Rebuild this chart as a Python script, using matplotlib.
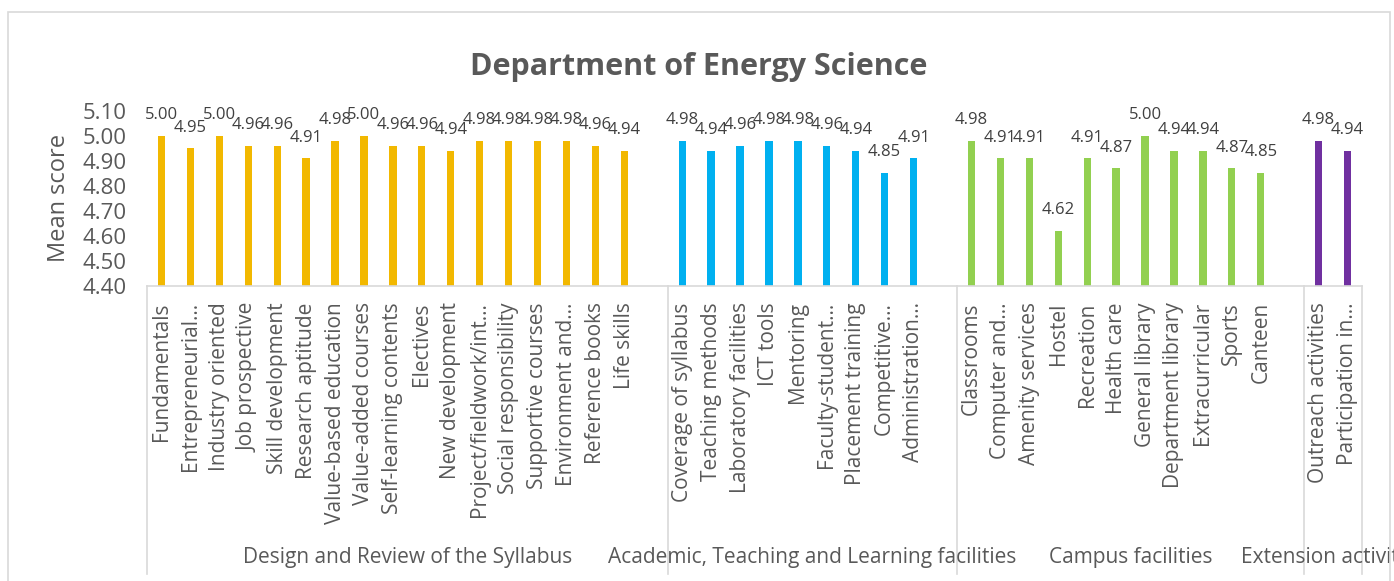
import numpy as np
import matplotlib.pyplot as plt
from matplotlib.patches import Rectangle
import matplotlib.transforms as mtransforms

plt.rcParams['font.family'] = ['Open Sans', 'DejaVu Sans']

# categories by group
syllabus = ['Fundamentals', 'Entrepreneurial…', 'Industry oriented', 'Job prospective',
            'Skill development', 'Research aptitude', 'Value-based education',
            'Value-added courses', 'Self-learning contents', 'Electives', 'New development',
            'Project/fieldwork/int…', 'Social responsibility', 'Supportive courses',
            'Environment and…', 'Reference books', 'Life skills']
academic = ['Coverage of syllabus', 'Teaching methods', 'Laboratory facilities', 'ICT tools',
            'Mentoring', 'Faculty-student…', 'Placement training', 'Competitive…',
            'Administration…']
campus = ['Classrooms', 'Computer and…', 'Amenity services', 'Hostel', 'Recreation',
          'Health care', 'General library', 'Department library', 'Extracurricular',
          'Sports', 'Canteen']
extension = ['Outreach activities', 'Participation in…']

syllabus_vals = [5.00, 4.95, 5.00, 4.96, 4.96, 4.91, 4.98, 5.00, 4.96, 4.96, 4.94,
                 4.98, 4.98, 4.98, 4.98, 4.96, 4.94]
academic_vals = [4.98, 4.94, 4.96, 4.98, 4.98, 4.96, 4.94, 4.85, 4.91]
campus_vals = [4.98, 4.91, 4.91, 4.62, 4.91, 4.87, 5.00, 4.94, 4.94, 4.87, 4.85]
extension_vals = [4.98, 4.94]

group_names = ['Design and Review of the Syllabus', 'Academic, Teaching and Learning facilities',
               'Campus facilities', 'Extension activities']
group_colors = ['#F2B800', '#00B0F0', '#92D050', '#7030A0']

groups = [(syllabus, syllabus_vals), (academic, academic_vals),
          (campus, campus_vals), (extension, extension_vals)]

fig = plt.figure(figsize=(13.94, 5.81), dpi=100)
ax = fig.add_axes([147 / 1394, 1 - 285.5 / 581, 1215 / 1394, 174.5 / 581])

# chart frame
fig.patches.append(Rectangle((8 / 1394, -0.05), 1382 / 1394, 1.05 - 12 / 581,
                             transform=fig.transFigure, fill=False,
                             edgecolor='#D9D9D9', linewidth=1.2))

trans = mtransforms.blended_transform_factory(ax.transData, ax.transAxes)
xticks, xlabels = [], []
start = 0
dividers = [-0.5]
for gi, (cats, vals) in enumerate(groups):
    xs = np.arange(start, start + len(cats))
    ax.bar(xs, vals, width=0.25, color=group_colors[gi], bottom=0)
    for x, v in zip(xs, vals):
        ax.annotate(f'{v:.2f}', (x, v), xytext=(0, 15), textcoords='offset points',
                    ha='center', va='center', fontsize=12, color='#404040')
    xticks += list(xs)
    xlabels += cats
    # blank slot after each group except the last
    end = start + len(cats) + (1 if gi < len(groups) - 1 else 0)
    dividers.append(end - 0.5)
    ax.text((start - 0.5 + end - 0.5) / 2, -1.556, group_names[gi], transform=trans,
            ha='center', va='center', fontsize=15, color='#595959', clip_on=False)
    start = end

for d in dividers:
    ax.plot([d, d], [0, -1.655], transform=trans, color='#D9D9D9', linewidth=1.2,
            clip_on=False)

ax.set_xlim(-0.5, start - 0.5)
ax.set_ylim(4.40, 5.10)
ax.set_yticks(np.arange(4.40, 5.101, 0.10))
ax.set_yticklabels([f'{t:.2f}' for t in np.arange(4.40, 5.101, 0.10)])
ax.set_xticks(xticks)
ax.set_xticklabels(xlabels, rotation=90, fontsize=15, color='#595959')
ax.tick_params(axis='x', length=0, pad=12)
ax.tick_params(axis='y', length=0, labelsize=16, labelcolor='#595959', pad=15)

for s in ['top', 'right', 'left']:
    ax.spines[s].set_visible(False)
ax.spines['bottom'].set_color('#D9D9D9')
ax.spines['bottom'].set_linewidth(1.2)

ax.set_ylabel('Mean score', fontsize=17, color='#595959', labelpad=8)
fig.text(699 / 1394, 1 - 75 / 581, 'Department of Energy Science', ha='center',
         va='baseline', fontsize=22, fontweight='bold', color='#595959')

fig.savefig('out.png', dpi=100)
